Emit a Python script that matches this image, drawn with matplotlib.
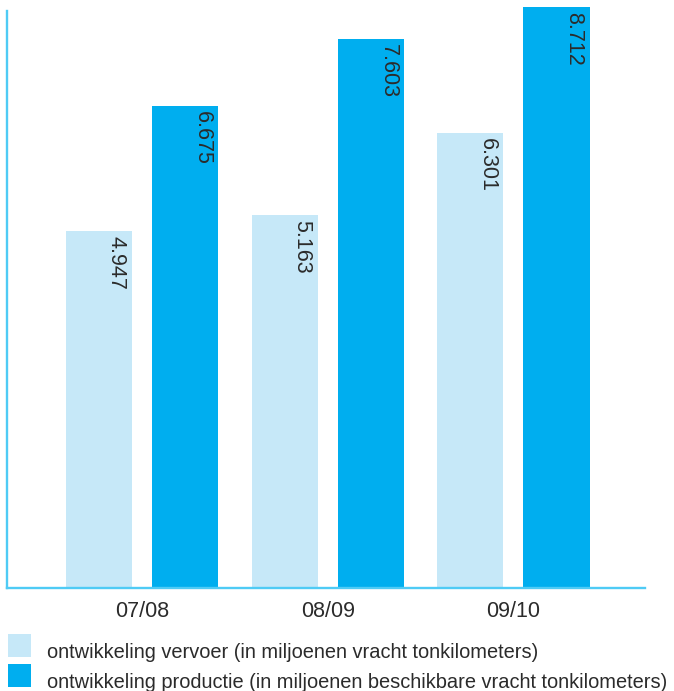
import matplotlib
matplotlib.use("Agg")
import matplotlib.pyplot as plt
from matplotlib.patches import Rectangle
import numpy as np

# Data
seasons = ["07/08", "08/09", "09/10"]
vervoer = [4.947, 5.163, 6.301]
productie = [6.675, 7.603, 8.712]
series_labels = [
    "ontwikkeling vervoer (in miljoenen vracht tonkilometers)",
    "ontwikkeling productie (in miljoenen beschikbare vracht tonkilometers)",
]

light = "#c6e8f8"
dark = "#00aeef"
spine_col = "#4fcbf5"
text_col = "#2b2b2b"

plt.rcParams["font.family"] = ["Liberation Sans", "DejaVu Sans"]

W, H = 674, 691
fig = plt.figure(figsize=(W / 100, H / 100), dpi=100)

def px_axes(x0, y0, x1, y1):
    return [x0 / W, 1 - y1 / H, (x1 - x0) / W, (y1 - y0) / H]

ax = fig.add_axes(px_axes(7, 7, 645, 588))

x = np.arange(len(seasons))
off = 0.233
bw = 0.356
ymax = 8.05
b1 = ax.bar(x - off, vervoer, width=bw, color=light, zorder=2)
b2 = ax.bar(x + off, productie, width=bw, color=dark, zorder=2)

ax.set_xlim(-0.729, 2.710)
ax.set_ylim(0, ymax)

fs = 15.5
for bars, vals in ((b1, vervoer), (b2, productie)):
    for rect, v in zip(bars, vals):
        top = min(v, ymax)
        ax.annotate(f"{v:.3f}", xy=(rect.get_x() + rect.get_width() / 2, top),
                    xytext=(12.5, -3.5), textcoords="offset points",
                    rotation=270, ha="center", va="top",
                    fontsize=fs, color=text_col, zorder=3, annotation_clip=False)

for s in ("top", "right"):
    ax.spines[s].set_visible(False)
for s in ("left", "bottom"):
    ax.spines[s].set_color(spine_col)
    ax.spines[s].set_linewidth(1.7)
ax.spines["left"].set_bounds(0, 8.0)

ax.set_yticks([])
ax.set_xticks(x)
ax.set_xticklabels(seasons, fontsize=fs, color=text_col)
ax.tick_params(axis="x", length=0, pad=9.5)

# Legend drawn in figure pixel coordinates
legend_rows = [(light, 634), (dark, 664)]
for (col, top), lab in zip(legend_rows, series_labels):
    fig.add_artist(Rectangle((8 / W, 1 - (top + 23) / H), 23 / W, 23 / H,
                             transform=fig.transFigure, color=col, lw=0))
    fig.text(47 / W, 1 - (top + 18) / H, lab, fontsize=14.4,
             color=text_col, va="center", ha="left")

fig.savefig("out.png", dpi=100)
